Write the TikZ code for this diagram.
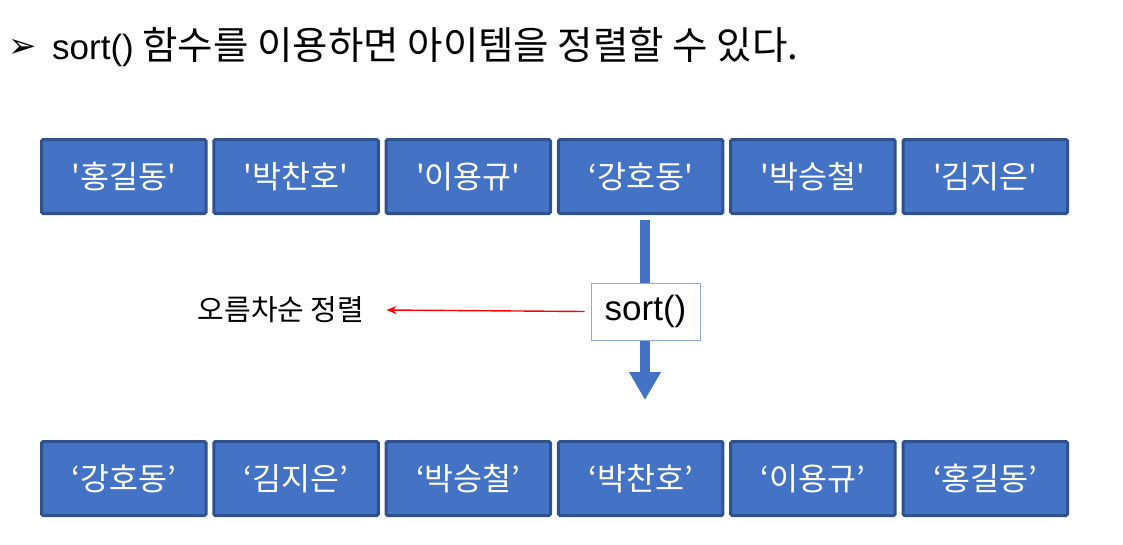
\documentclass[tikz,border=0pt]{standalone}
\usepackage{fontspec}
\setmainfont{Noto Sans CJK KR}[Ligatures=TeXOff]
\newfontfamily\arialfont{Liberation Sans}
\newfontfamily\dingfont{DejaVu Sans}
\usepackage{tikz}
\usetikzlibrary{arrows.meta, positioning}
\definecolor{boxblue}{RGB}{68,114,196}
\definecolor{boxedge}{RGB}{47,82,143}
\definecolor{sortedge}{RGB}{143,170,220}

\begin{document}
\begin{tikzpicture}[
    x=1pt, y=-1pt,
    item/.style={rectangle, draw=boxedge, line width=3pt, fill=boxblue, rounded corners=1.5pt, minimum width=164.5pt, minimum height=74pt, inner sep=0pt, text=white, font=\fontsize{31.5}{33}\selectfont},
    sortbox/.style={rectangle, draw=sortedge, line width=1pt, fill=white, minimum width=109pt, minimum height=57pt, inner sep=0pt, font=\arialfont\fontsize{35}{37}\selectfont},
    bigarrow/.style={-{Triangle[length=28pt, width=30pt]}, line width=10pt, color=boxblue},
    redarrow/.style={-{Stealth[length=10pt, width=8pt]}, line width=1.4pt, color=red},
    label/.style={font=\fontsize{29}{31}\selectfont, inner sep=0pt}
]
\useasboundingbox (0,0) rectangle (1123,544);

\node[font=\dingfont\fontsize{34}{36}\selectfont, inner sep=0pt] (bullet) at (23,48) {➢};
\node[anchor=west, font=\fontsize{38.5}{41}\selectfont, inner sep=0pt] (title) at (52,47) {{\arialfont\fontsize{35}{37}\selectfont sort()} 함수를 이용하면 아이템을 정렬할 수 있다.};

\node[item] (t1) at (123.75,176.5) {'홍길동'};
\node[item, right=4.8pt of t1] (t2) {'박찬호'};
\node[item, right=4.8pt of t2] (t3) {'이용규'};
\node[item, right=4.8pt of t3] (t4) {‘강호동'};
\node[item, right=4.8pt of t4] (t5) {'박승철'};
\node[item, right=4.8pt of t5] (t6) {'김지은'};

\node[item, below=225pt of t1] (b1) {‘강호동’};
\node[item, right=4.8pt of b1] (b2) {‘김지은’};
\node[item, right=4.8pt of b2] (b3) {‘박승철’};
\node[item, right=4.8pt of b3] (b4) {‘박찬호’};
\node[item, right=4.8pt of b4] (b5) {‘이용규’};
\node[item, right=4.8pt of b5] (b6) {‘홍길동’};

\coordinate (tip) at (645,400);
\coordinate (astart) at ([yshift=-5pt]tip |- t4.south);
\draw[bigarrow] (astart) -- (tip);

\node[sortbox] (sort) at (645.5,311.5) {sort()};
\node[label] (asc) at (281,310) {오름차순 정렬};

\draw[redarrow] ([xshift=-6pt]sort.west) -- ([xshift=22pt]asc.east);
\end{tikzpicture}
\end{document}
